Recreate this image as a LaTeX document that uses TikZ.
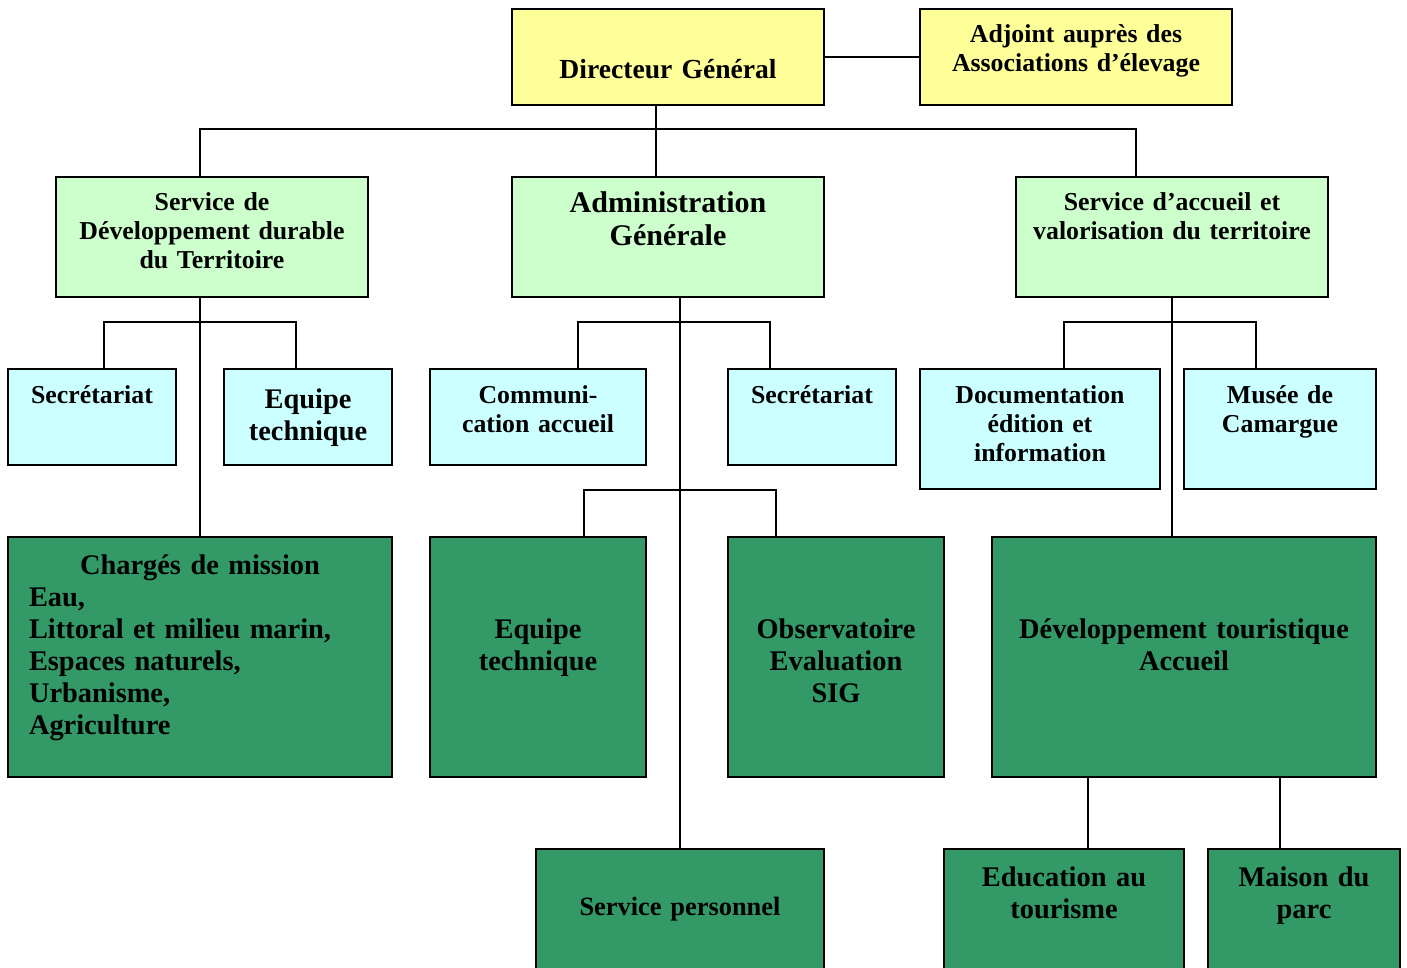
\documentclass[tikz,border=0pt]{standalone}
\usepackage{fontspec}
\setmainfont{Liberation Serif}
\usepackage{tikz}

\newlength\px
\setlength\px{0.5pt}
\definecolor{headyellow}{HTML}{FFFF99}
\definecolor{servgreen}{HTML}{CCFFCC}
\definecolor{unitcyan}{HTML}{CCFFFF}
\definecolor{teamgreen}{HTML}{339966}

\tikzset{
  box/.style={draw, line width=2\px, inner sep=0pt},
  boxsize/.style 2 args={minimum width=#1\px, minimum height=#2\px},
  link/.style={line width=2\px},
  small/.style={font=\bfseries\fontsize{12.9}{14.5}\selectfont, align=center, inner sep=0pt, anchor=base},
  big/.style={font=\bfseries\fontsize{14.2}{16}\selectfont, align=center, inner sep=0pt, anchor=base}
}

\begin{document}
\begin{tikzpicture}[x=1\px, y=-1\px]
            \useasboundingbox (0,0) rectangle (1407,968);

            \node[box, fill=headyellow, boxsize={312}{96}] (dg) at (668,57) {};
            \node[box, fill=headyellow, boxsize={312}{96}] (adj) at (1076,57) {};

            \node[box, fill=servgreen, boxsize={312}{120}] (sdd) at (212,237) {};
            \node[box, fill=servgreen, boxsize={312}{120}] (ag) at (668,237) {};
            \node[box, fill=servgreen, boxsize={312}{120}] (sav) at (1172,237) {};

            \node[box, fill=unitcyan, boxsize={168}{96}] (sec1) at (92,417) {};
            \node[box, fill=unitcyan, boxsize={168}{96}] (eq1) at (308,417) {};
            \node[box, fill=unitcyan, boxsize={216}{96}] (comm) at (538,417) {};
            \node[box, fill=unitcyan, boxsize={168}{96}] (sec2) at (812,417) {};
            \node[box, fill=unitcyan, boxsize={240}{120}] (doc) at (1040,429) {};
            \node[box, fill=unitcyan, boxsize={192}{120}] (mus) at (1280,429) {};

            \node[box, fill=teamgreen, boxsize={384}{240}] (chm) at (200,657) {};
            \node[box, fill=teamgreen, boxsize={216}{240}] (eq2) at (538,657) {};
            \node[box, fill=teamgreen, boxsize={216}{240}] (obs) at (836,657) {};
            \node[box, fill=teamgreen, boxsize={384}{240}] (devt) at (1184,657) {};

            \node[box, fill=teamgreen, boxsize={288}{160}] (servp) at (680,929) {};
            \node[box, fill=teamgreen, boxsize={240}{160}] (educ) at (1064,929) {};
            \node[box, fill=teamgreen, boxsize={192}{160}] (maison) at (1304,929) {};

            \node[big, text width=300\px, font=\bfseries\fontsize{13.8}{16}\selectfont] (dg-t) at ([yshift=-71\px]dg.north) {Directeur Général};
            \node[small, text width=300\px] (adj-t) at ([yshift=-35\px]adj.north) {Adjoint auprès des\\Associations d'élevage};
            \node[small, text width=300\px] (sdd-t) at ([yshift=-35\px]sdd.north) {Service de\\Développement durable\\du Territoire};
            \node[big, text width=300\px, font=\bfseries\fontsize{15}{16.5}\selectfont] (ag-t) at ([yshift=-37\px]ag.north) {Administration\\Générale};
            \node[small, text width=300\px] (sav-t) at ([yshift=-35\px]sav.north) {Service d’accueil et\\valorisation du territoire};
            \node[small, text width=160\px] (sec1-t) at ([yshift=-35\px]sec1.north) {Secrétariat};
            \node[big, text width=160\px] (eq1-t) at ([yshift=-40\px]eq1.north) {Equipe\\technique};
            \node[small, text width=208\px] (comm-t) at ([yshift=-35\px]comm.north) {Communi-\\cation accueil};
            \node[small, text width=160\px] (sec2-t) at ([yshift=-35\px]sec2.north) {Secrétariat};
            \node[small, text width=232\px] (doc-t) at ([yshift=-35\px]doc.north) {Documentation\\édition et\\information};
            \node[small, text width=184\px] (mus-t) at ([yshift=-35\px]mus.north) {Musée de\\Camargue};
            \node[big, text width=342\px, align=left] (chm-t) at ([yshift=-38\px]chm.north) {\makebox[\linewidth][c]{Chargés de mission}\\Eau,\\Littoral et milieu marin,\\Espaces naturels,\\Urbanisme,\\Agriculture};
            \node[big, text width=208\px] (eq2-t) at ([yshift=-102\px]eq2.north) {Equipe\\technique};
            \node[big, text width=208\px] (obs-t) at ([yshift=-102\px]obs.north) {Observatoire\\Evaluation\\SIG};
            \node[big, text width=376\px] (devt-t) at ([yshift=-102\px]devt.north) {Développement touristique\\Accueil};
            \node[big, text width=280\px, font=\bfseries\fontsize{13.2}{16}\selectfont] (servp-t) at ([yshift=-67\px]servp.north) {Service personnel};
            \node[big, text width=232\px] (educ-t) at ([yshift=-38\px]educ.north) {Education au\\tourisme};
            \node[big, text width=184\px] (maison-t) at ([yshift=-38\px]maison.north) {Maison du\\parc};

            \coordinate (bus) at (656,129);
            \draw[link] (dg.east) -- (adj.west);
            \draw[link] ([xshift=-12\px]dg.south) -- (bus);
            \draw[link] ([xshift=-12\px]sdd.north) |- (bus) -| ([xshift=-36\px]sav.north);
            \draw[link] (bus) -- ([xshift=-12\px]ag.north);

            \draw[link] ([xshift=-12\px]sdd.south) -- (chm.north);
            \draw[link] ([xshift=12\px]sec1.north) |- ([yshift=-24\px]sdd.south) -| ([xshift=-12\px]eq1.north);

            \draw[link] ([xshift=12\px]ag.south) -- (servp.north);
            \draw[link] ([xshift=40\px]comm.north) |- ([yshift=-24\px]ag.south) -| ([xshift=-42\px]sec2.north);
            \draw[link] ([xshift=46\px]eq2.north) |- ([xshift=12\px, yshift=-192\px]ag.south) -| ([xshift=-60\px]obs.north);

            \draw[link] (sav.south) -- ([xshift=-12\px]devt.north);
            \draw[link] ([xshift=24\px]doc.north) |- ([yshift=-24\px]sav.south) -| ([xshift=-24\px]mus.north);
            \draw[link] ([xshift=-96\px]devt.south) -- ([xshift=24\px]educ.north);
            \draw[link] ([xshift=96\px]devt.south) -- ([xshift=-24\px]maison.north);
        \end{tikzpicture}
\end{document}
